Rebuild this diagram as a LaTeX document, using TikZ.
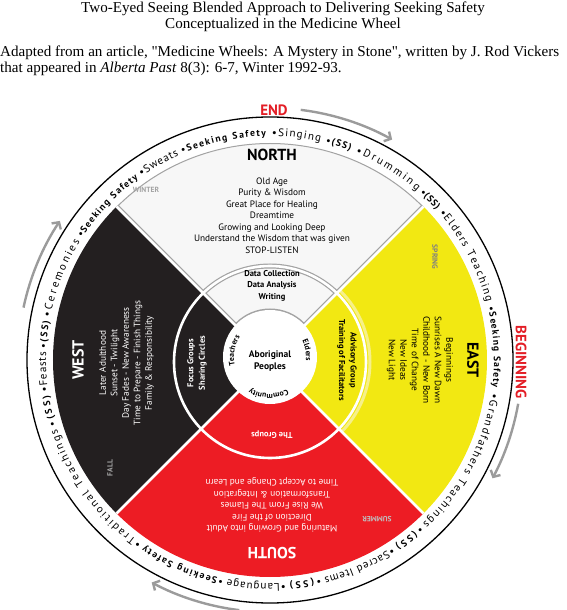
\documentclass[tikz,border=0pt]{standalone}
\usepackage{fontspec}
\setmainfont{Liberation Serif}
\newfontfamily\plainserif{Liberation Serif}
\newfontfamily\wheelfont{PT Sans}
\usetikzlibrary{decorations.text,arrows.meta}
\definecolor{wblack}{HTML}{231F20}
\definecolor{wred}{HTML}{ED1C24}
\definecolor{wyellow}{HTML}{F2E812}
\definecolor{wpale}{HTML}{F6F08A}
\definecolor{wnorth}{HTML}{F7F7F7}
\definecolor{wgray}{HTML}{A3A3A3}
\definecolor{endred}{HTML}{E31E26}
\definecolor{arrowgray}{HTML}{9B9B9B}
\newcommand\rr{\wheelfont\fontsize{11}{13}\selectfont}
\newcommand\rb{\wheelfont\bfseries\fontsize{9.6}{12}\selectfont}
\newcommand\ib{\wheelfont\bfseries\fontsize{7.8}{9}\selectfont}
\newcommand\sq{{\plainserif"}}
\newcommand{\ringseg}[4]{\path[decorate,decoration={text along path,text={|#3|#4},text align=fit to path}] (#1:224) arc[start angle=#1,end angle=#2,radius=224];}
\newcommand{\innerlab}[4]{\path[decorate,decoration={text along path,text={|\ib|#4},text align=center}] ([shift={(0,3)}]#1:#3) arc[start angle=#1,end angle=#2,radius=#3];}
\tikzset{
  titletext/.style={font=\fontsize{15.1}{17}\selectfont,inner sep=0pt},
  heading/.style={font=\wheelfont\bfseries\fontsize{16}{18}\selectfont,inner sep=0pt},
  listtext/.style={font=\wheelfont\fontsize{9.3}{11.5}\selectfont,align=center,inner sep=0pt},
  midtext/.style={font=\wheelfont\bfseries\fontsize{8.5}{11.5}\selectfont,align=center,inner sep=0pt},
  season/.style={font=\wheelfont\bfseries\fontsize{7.5}{9}\selectfont,inner sep=0pt},
  redlabel/.style={font=\wheelfont\bfseries\fontsize{15}{17}\selectfont,text=endred,inner sep=0pt},
  cyclearrow/.style={arrowgray,line width=2.4pt,-{Straight Barb[length=5pt,width=11pt]}},
  sep/.style={white,line width=2.6pt}
}
\begin{document}
\begin{tikzpicture}[x=1pt,y=1pt]
\useasboundingbox (-270,-250) rectangle (297,360);
% titles
\node[titletext,anchor=base] (t1) at (13,347) {Two-Eyed Seeing Blended Approach to Delivering Seeking Safety};
\node[titletext,anchor=base] (t2) at (13,331) {Conceptualized in the Medicine Wheel};
\node[titletext,anchor=base west] (t3) at (-270,303) {Adapted from an article, \sq Medicine Wheels: A Mystery in Stone\sq, written by J. Rod Vickers};
\node[titletext,anchor=base west] (t4) at (-270,287) {that appeared in \textit{Alberta Past} 8(3): 6-7, Winter 1992-93.};
% quadrants
\fill[wblack] (0,0) -- (135:217) arc[start angle=135,end angle=225,radius=217] -- cycle;
\fill[wred] (0,0) -- (225:217) arc[start angle=225,end angle=315,radius=217] -- cycle;
\fill[wyellow] (0,0) -- (-45:217) arc[start angle=-45,end angle=45,radius=217] -- cycle;
\fill[wnorth] (0,0) -- (45:217) arc[start angle=45,end angle=135,radius=217] -- cycle;
% pale band in east
\begin{scope}
\clip (0,0) -- (-45:217) arc[start angle=-45,end angle=45,radius=217] -- cycle;
\draw[wpale,line width=3pt] (0,-2) circle[radius=100];
\end{scope}
% gray edges of north
\begin{scope}
\clip (0,0) -- (45:217) arc[start angle=45,end angle=135,radius=217] -- cycle;
\draw[wgray,line width=5pt] (135:230) -- (0,0) -- (45:230);
\draw[wgray,line width=2pt] (0,0) circle[radius=217];
\draw[wgray,line width=5pt] (0,-2) circle[radius=96];
\draw[wgray,line width=2pt] (0,3) circle[radius=47.5];
\end{scope}
% separators
\draw[sep] (135:217) -- (-45:217);
\draw[sep] (45:217) -- (225:217);
\draw[sep] (0,-2) circle[radius=96];
\fill[white] (0,3) circle[radius=47];
% outer ring
\draw[black,line width=1.3pt] (0,0) circle[radius=243];
% ring text
\ringseg{89.5}{77}{\rr}{•Singing}
\ringseg{75.6}{69}{\rb}{•(SS)}
\ringseg{67.5}{49}{\rr}{•Drumming}
\ringseg{48}{42}{\rb}{•(SS)}
\ringseg{41}{15}{\rr}{•Elders Teaching}
\ringseg{13.5}{-7}{\rb}{•Seeking Safety}
\ringseg{-8.6}{-47}{\rr}{•Grandfathers Teachings}
\ringseg{-48}{-56}{\rb}{•(SS)}
\ringseg{-57}{-76}{\rr}{•Sacred Items}
\ringseg{-77}{-85}{\rb}{•(SS)}
\ringseg{-86}{-101}{\rr}{•Language}
\ringseg{-102}{-124}{\rb}{•Seeking Safety}
\ringseg{-125}{-162}{\rr}{•Traditional Teachings}
\ringseg{-163}{-171}{\rb}{•(SS)}
\ringseg{-172}{-182}{\rr}{•Feasts}
\ringseg{-183}{-190}{\rb}{•(SS)}
\ringseg{-191}{-212}{\rr}{•Ceremonies}
\ringseg{-213}{-234}{\rb}{•Seeking Safety}
\ringseg{-235}{-246}{\rr}{•Sweats}
\ringseg{-247}{-269}{\rb}{•Seeking Safety}
% inner ring labels
\innerlab{210}{130}{36}{Teachers}
\innerlab{50}{-30}{36}{Elders}
\innerlab{-40}{-144}{37}{Community}
% headings
\node[heading] (north) at (2,205) {NORTH};
\node[heading,text=white,rotate=90] (west) at (-192,0) {WEST};
\node[heading,rotate=-90] (east) at (203,0) {EAST};
\node[heading,text=white,rotate=180] (south) at (2,-193) {SOUTH};
% quadrant lists
\node[listtext] (nlist) at (2,144.5) {Old Age\\Purity \& Wisdom\\Great Place for Healing\\Dreamtime\\Growing and Looking Deep\\Understand the Wisdom that was given\\STOP-LISTEN};
\node[listtext,text=white,rotate=90] (wlist) at (-143.5,-3) {Later Adulthood\\Sunset - Twilight\\Day Fades - New Awareness\\Time to Prepare - Finish Things\\Family \& Responsibility};
\node[listtext,rotate=-90] (elist) at (150,0) {Beginnings\\Sunrises A New Dawn\\Childhood - New Born\\Time of Change\\New Ideas\\New Light};
\node[listtext,text=white,rotate=180] (slist) at (2,-145) {Maturing and Growing into Adult\\Direction of the Fire\\We Rise From The Flames\\Transformation \& Integration\\Time to Accept Change and Learn};
% middle ring
\node[midtext] (nmid) at (2,74.5) {Data Collection\\Data Analysis\\Writing};
\node[midtext,text=white,rotate=90] (wmid) at (-73,-3) {Focus Groups\\Sharing Circles};
\node[midtext,rotate=-90] (emid) at (77,0) {Advisory Group\\Training of Facilitators};
\node[midtext,text=white,rotate=180] (smid) at (2,-75) {The Groups};
\node[midtext,font=\wheelfont\bfseries\fontsize{9.5}{12}\selectfont] (core) at (0,-1) {Aboriginal\\Peoples};
% seasons
\node[season,text=wgray] (winter) at (-124,170) {WINTER};
\node[season,text=gray,rotate=-90] (spring) at (165,103) {SPRING};
\node[season,text=black!25,rotate=180] (summer) at (107,-159) {SUMMER};
\node[season,text=black!35,rotate=90] (fall) at (-160,-108) {FALL};
% start / end
\node[redlabel] (end) at (4,250) {END};
\node[redlabel,rotate=-90] (begin) at (251,-2) {BEGINNING};
% arrows
\draw[cyclearrow] (83:252) arc[start angle=83,end angle=61,radius=252];
\draw[cyclearrow] (-10:252) arc[start angle=-10,end angle=-28,radius=252];
\draw[cyclearrow] (-97:252) arc[start angle=-97,end angle=-118,radius=252];
\draw[cyclearrow] (168:252) arc[start angle=168,end angle=146.5,radius=252];
\end{tikzpicture}
\end{document}
